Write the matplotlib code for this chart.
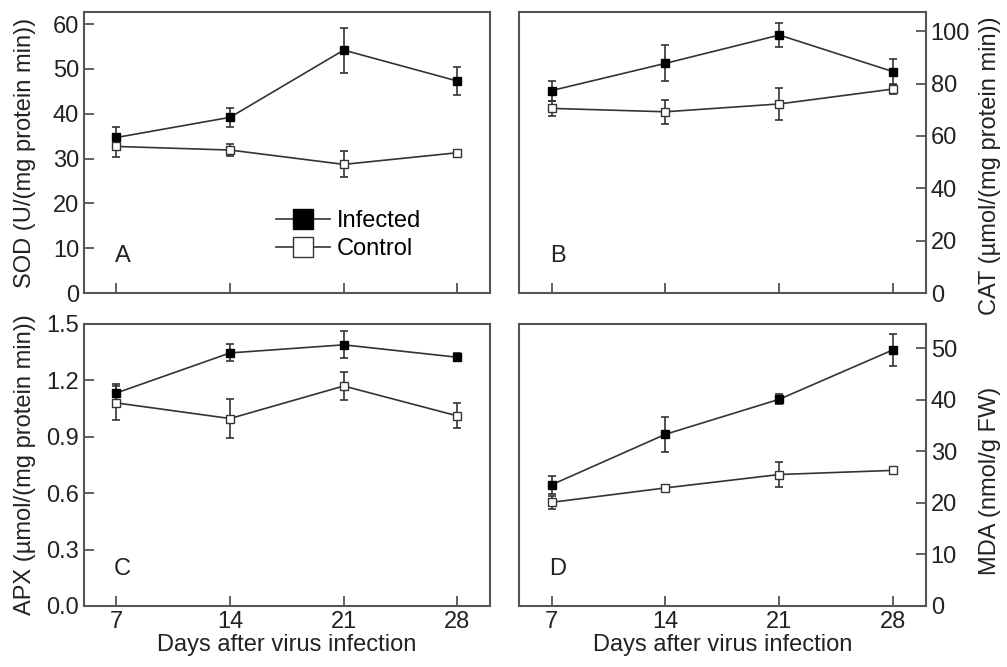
import numpy as np
import matplotlib.pyplot as plt

plt.rcParams['font.family'] = ['Liberation Sans', 'DejaVu Sans']

days = [7, 14, 21, 28]

# SOD
sod_inf = [34.7, 39.2, 54.2, 47.3]
sod_inf_err = [2.4, 2.1, 5.0, 3.1]
sod_con = [32.7, 31.9, 28.7, 31.3]
sod_con_err = [2.4, 1.4, 2.9, 0.7]

# CAT
cat_inf = [77.3, 87.7, 98.5, 84.5]
cat_inf_err = [3.8, 6.9, 4.6, 5.0]
cat_con = [70.5, 69.2, 72.2, 77.9]
cat_con_err = [2.9, 4.6, 6.1, 2.0]

# APX
apx_inf = [1.133, 1.346, 1.389, 1.323]
apx_inf_err = [0.05, 0.045, 0.072, 0.02]
apx_con = [1.08, 0.997, 1.17, 1.011]
apx_con_err = [0.09, 0.105, 0.075, 0.066]

# MDA
mda_inf = [23.5, 33.3, 40.1, 49.7]
mda_inf_err = [1.7, 3.4, 1.0, 3.1]
mda_con = [20.1, 22.9, 25.5, 26.3]
mda_con_err = [1.2, 0.5, 2.4, 0.6]

ink = '#333333'
spine = '#555555'
fs = 17

fig = plt.figure(figsize=(10.07, 6.67), dpi=100)
axA = fig.add_axes([0.0834, 0.5607, 0.403, 0.4213])
axB = fig.add_axes([0.5154, 0.5607, 0.404, 0.4213])
axC = fig.add_axes([0.0834, 0.0915, 0.403, 0.4228])
axD = fig.add_axes([0.5154, 0.0915, 0.404, 0.4228])


def panel(ax, inf, inf_e, con, con_e, ylim, yticks, ylabel, letter, right, bottom, label_y):
    ax.errorbar(days, inf, yerr=inf_e, color=ink, lw=1.2, marker='s', ms=6,
                mfc='black', mec='black', ecolor=ink, elinewidth=1.2, capsize=3,
                capthick=1.2, label='Infected', zorder=3)
    ax.errorbar(days, con, yerr=con_e, color=ink, lw=1.2, marker='s', ms=6,
                mfc='white', mec=ink, ecolor=ink, elinewidth=1.2, capsize=3,
                capthick=1.2, label='Control', zorder=3)
    ax.set_xlim(5, 30)
    ax.set_ylim(*ylim)
    ax.set_xticks(days)
    ax.set_yticks(yticks)
    for s in ax.spines.values():
        s.set_color(spine)
        s.set_linewidth(1.5)
    ax.tick_params(direction='in', length=7, width=1.3, color=spine,
                   labelsize=fs, labelcolor='#222222', top=False)
    if right:
        ax.yaxis.tick_right()
        ax.yaxis.set_label_position('right')
        ax.tick_params(axis='y', left=False, right=True)
    else:
        ax.tick_params(axis='y', right=False, left=True)
    if bottom:
        ax.set_xticklabels([str(d) for d in days])
        ax.set_xlabel('Days after virus infection', fontsize=fs, color='#222222', labelpad=1)
    else:
        ax.set_xticklabels([])
    ax.set_ylabel(ylabel, fontsize=fs, color='#222222')
    ax.yaxis.set_label_coords(1.130 if right else -0.118, label_y)
    ax.text(0.095, 0.132, letter, transform=ax.transAxes, fontsize=fs,
            color='#222222', ha='center', va='center')


panel(axA, sod_inf, sod_inf_err, sod_con, sod_con_err, (0, 62.7),
      [0, 10, 20, 30, 40, 50, 60], 'SOD (U/(mg protein min))', 'A', False, False, 0.5)
panel(axB, cat_inf, cat_inf_err, cat_con, cat_con_err, (0, 107.3),
      [0, 20, 40, 60, 80, 100], 'CAT (µmol/(mg protein min))', 'B', True, False, 0.452)
panel(axC, apx_inf, apx_inf_err, apx_con, apx_con_err, (0, 1.5),
      [0.0, 0.3, 0.6, 0.9, 1.2, 1.5], 'APX (µmol/(mg protein min))', 'C', False, True, 0.5)
panel(axD, mda_inf, mda_inf_err, mda_con, mda_con_err, (0, 54.7),
      [0, 10, 20, 30, 40, 50], 'MDA (nmol/g FW)', 'D', True, True, 0.443)

axC.set_yticklabels(['0.0', '0.3', '0.6', '0.9', '1.2', '1.5'])

handles, labels = axA.get_legend_handles_labels()
handles = [h[0] for h in handles]
axA.legend(handles, labels, loc='center left', bbox_to_anchor=(0.42, 0.205),
           frameon=False, fontsize=fs, handlelength=2.3, handletextpad=0.3,
           labelspacing=0.25, markerscale=2.3)

fig.savefig('out.png', dpi=100)
